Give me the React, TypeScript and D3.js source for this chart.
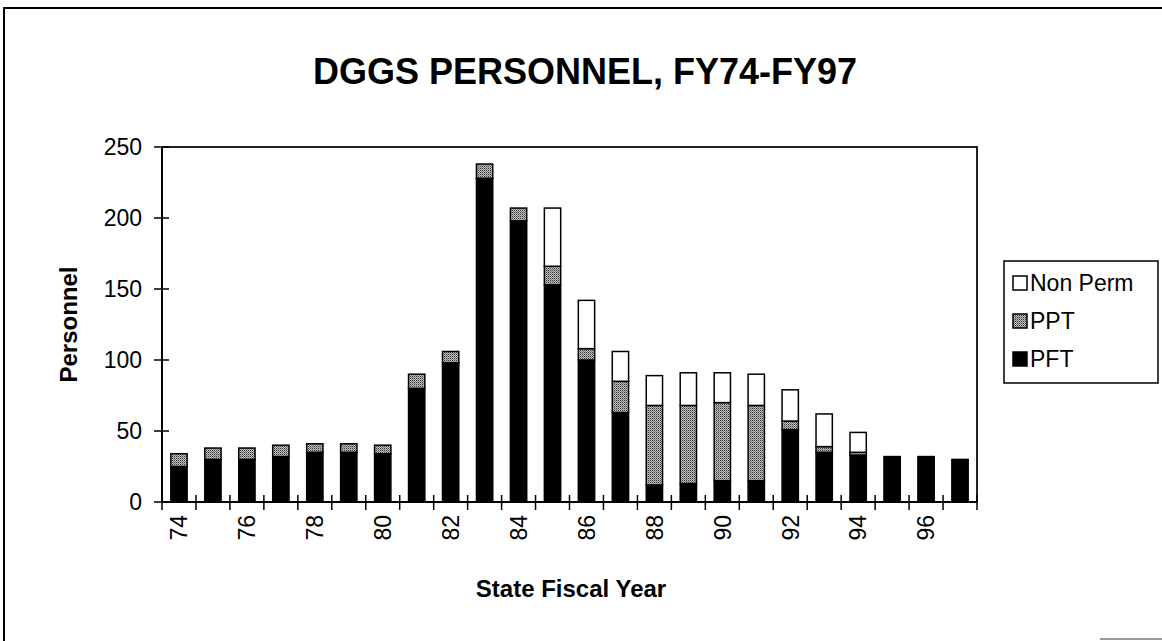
import React from 'react';
import * as d3 from 'd3';

const years = ['74', '75', '76', '77', '78', '79', '80', '81', '82', '83', '84', '85', '86', '87', '88', '89', '90', '91', '92', '93', '94', '95', '96', '97'];
const pft = [25, 30, 30, 32, 35, 35, 34, 80, 98, 228, 198, 153, 100, 63, 12, 13, 15, 15, 51, 35, 33, 32, 32, 30];
const ppt = [9, 8, 8, 8, 6, 6, 6, 10, 8, 10, 9, 13, 8, 22, 56, 55, 55, 53, 6, 4, 2, 0, 0, 0];
const nonPerm = [0, 0, 0, 0, 0, 0, 0, 0, 0, 0, 0, 41, 34, 21, 21, 23, 21, 22, 22, 23, 14, 0, 0, 0];
const yTicks = [0, 50, 100, 150, 200, 250];
const xLabels = ['74', '76', '78', '80', '82', '84', '86', '88', '90', '92', '94', '96'];
const seriesKeys = ['pft', 'ppt', 'nonPerm'];
const legendItems = [
    { key: 'nonPerm', label: 'Non Perm' },
    { key: 'ppt', label: 'PPT' },
    { key: 'pft', label: 'PFT' },
];

const font = 'Arial, "Liberation Sans", sans-serif';
const fills: Record<string, string> = { pft: '#000', ppt: 'url(#dither)', nonPerm: '#fff' };

export default function App() {
    const W = 1162, H = 641;
    const plot = { left: 162, right: 977, top: 147, bottom: 502 };

    const x = d3.scaleBand().domain(years).range([plot.left, plot.right]).paddingInner(0.52).paddingOuter(0.26);
    const y = d3.scaleLinear().domain([0, 250]).range([plot.bottom, plot.top]);
    const step = x.step();

    const rows = years.map((yr, i) => ({ yr, pft: pft[i], ppt: ppt[i], nonPerm: nonPerm[i] }));
    const stacked = d3.stack<any>().keys(seriesKeys)(rows);

    return (
        <div style={{ position: 'absolute', left: 0, top: 0 }}>
            <svg width={W} height={H} style={{ display: 'block', background: '#fff' }} fontFamily={font}>
                <defs>
                    <pattern id="dither" width={2} height={2} patternUnits="userSpaceOnUse">
                        <rect width={2} height={2} fill="#c4c4c4" />
                        <rect width={1} height={1} fill="#303030" />
                        <rect x={1} y={1} width={1} height={1} fill="#7a7a7a" />
                    </pattern>
                </defs>

                {/* outer chart frame */}
                <path d={`M4,${H} V8 H${W}`} fill="none" stroke="#000" strokeWidth={2} />
                <line x1={1100} x2={W} y1={639} y2={639} stroke="#999" strokeWidth={2} />

                <text x={585} y={84} textAnchor="middle" fontSize={36} fontWeight="bold">DGGS PERSONNEL, FY74-FY97</text>

                {/* plot border */}
                <path d={`M${plot.left},${plot.top} H${plot.right} V${plot.bottom}`} fill="none" stroke="#222" strokeWidth={2} />

                {stacked.map(layer => (
                    <g key={layer.key}>
                        {layer.map((d, i) => d[1] - d[0] > 0 ? (
                            <rect key={i}
                                x={x(years[i])!}
                                y={y(d[1])}
                                width={x.bandwidth()}
                                height={y(d[0]) - y(d[1])}
                                fill={fills[layer.key]}
                                stroke="#000"
                                strokeWidth={1.5} />
                        ) : null)}
                    </g>
                ))}

                {/* y axis */}
                <line x1={plot.left} x2={plot.left} y1={plot.top} y2={plot.bottom} stroke="#000" strokeWidth={2} />
                {yTicks.map(t => (
                    <g key={t}>
                        <line x1={plot.left - 8} x2={plot.left + 7} y1={y(t)} y2={y(t)} stroke="#000" strokeWidth={1.5} />
                        <text x={142} y={y(t)} dy="0.36em" textAnchor="end" fontSize={23}>{t}</text>
                    </g>
                ))}
                <text transform={`translate(77,${(plot.top + plot.bottom) / 2}) rotate(-90)`} textAnchor="middle" fontSize={24} fontWeight="bold">Personnel</text>

                {/* x axis */}
                <line x1={plot.left} x2={plot.right} y1={plot.bottom} y2={plot.bottom} stroke="#000" strokeWidth={2} />
                {d3.range(years.length + 1).map(i => (
                    <line key={i} x1={plot.left + i * step} x2={plot.left + i * step} y1={plot.bottom - 7} y2={plot.bottom + 8} stroke="#000" strokeWidth={1.5} />
                ))}
                {xLabels.map(l => (
                    <text key={l} transform={`translate(${x(l)! + x.bandwidth() / 2},515) rotate(-90)`} dy="0.36em" textAnchor="end" fontSize={23}>{l}</text>
                ))}
                <text x={571} y={597} textAnchor="middle" fontSize={24} fontWeight="bold">State Fiscal Year</text>

                {/* legend */}
                <rect x={1004} y={261} width={154} height={122} fill="#fff" stroke="#000" strokeWidth={1.5} />
                {legendItems.map((it, i) => (
                    <g key={it.key} transform={`translate(1013,${283 + i * 38})`}>
                        <rect x={0} y={-7} width={14} height={14} fill={fills[it.key]} stroke="#000" strokeWidth={1.5} />
                        <text x={17} y={0} dy="0.36em" fontSize={23}>{it.label}</text>
                    </g>
                ))}
            </svg>
        </div>
    );
}
